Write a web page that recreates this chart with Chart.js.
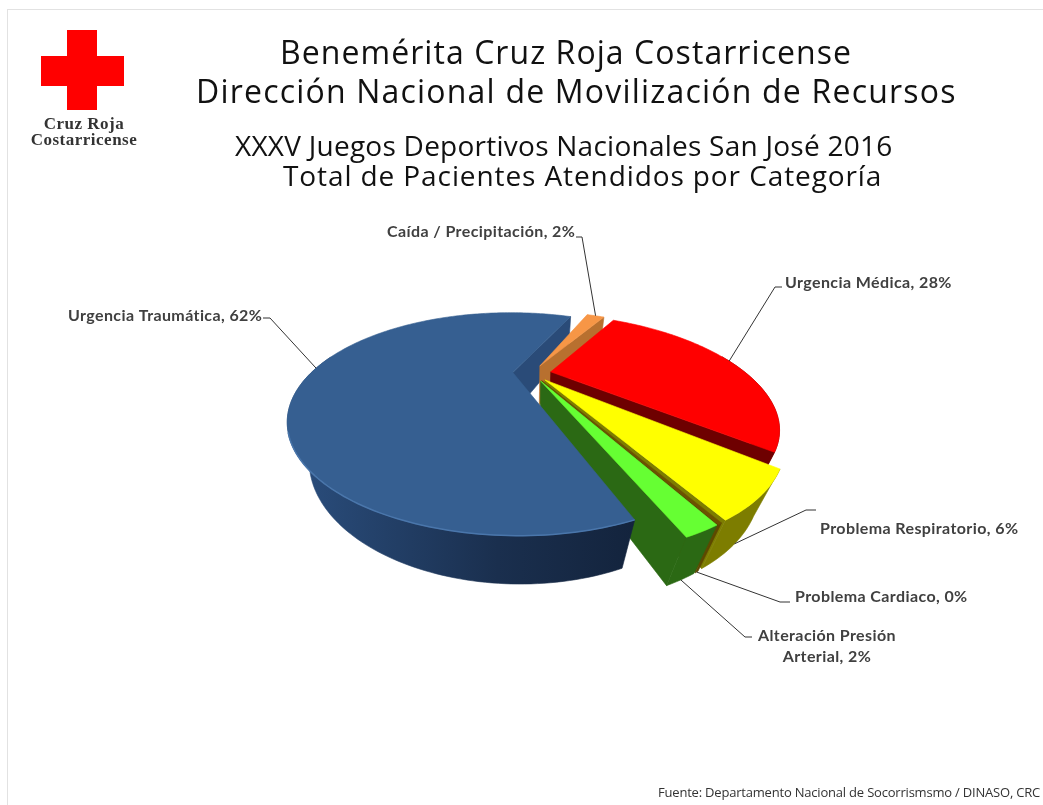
<!DOCTYPE html>
<html>
<head>
<meta charset="utf-8">
<title>Total de Pacientes Atendidos por Categoría</title>
<script src="https://cdn.jsdelivr.net/npm/chart.js@4"></script>
<style>
  html, body { margin: 0; padding: 0; background: #fff; }
  #page { position: relative; width: 1043px; height: 805px; overflow: hidden; }
  #frame { position: absolute; left: 7px; top: 9px; width: 1040px; height: 800px; border: 1px solid #e2e2e2; box-sizing: border-box; }
  canvas { position: absolute; left: 0; top: 0; }
  .t { position: absolute; white-space: nowrap; font-family: "Open Sans", sans-serif; color: #111; line-height: 1; }
  .logo { position: absolute; background: #ff0000; }
  .logotxt { position: absolute; left: 14px; width: 140px; text-align: center; font: bold 17px "Liberation Serif", serif; letter-spacing: .5px; color: #333; line-height: 1; }
</style>
</head>
<body>
<div id="page">
  <div id="frame"></div>
  <canvas id="pie" width="1043" height="805"></canvas>
  <div class="logo" style="left:41px;top:56px;width:83px;height:30px"></div>
  <div class="logo" style="left:67px;top:30px;width:30px;height:80px"></div>
  <div class="logotxt" style="top:115px">Cruz Roja</div>
  <div class="logotxt" style="top:131px">Costarricense</div>
  <div class="t" style="left:280px;top:36px;font-size:32px;letter-spacing:1.06px">Benemérita Cruz Roja Costarricense</div>
  <div class="t" style="left:196px;top:75px;font-size:32px;letter-spacing:1.2px">Dirección Nacional de Movilización de Recursos</div>
  <div class="t" style="left:235px;top:131px;font-size:28px;letter-spacing:.25px">XXXV Juegos Deportivos Nacionales San José 2016</div>
  <div class="t" style="left:283px;top:161px;font-size:28px;letter-spacing:.9px">Total de Pacientes Atendidos por Categoría</div>
  <div class="t" style="left:658px;top:786px;font-size:13px;color:#333;letter-spacing:-.2px">Fuente: Departamento Nacional de Socorrismsmo / DINASO, CRC</div>
</div>
<script>
const categories = [
  "Urgencia Traumática",
  "Caída / Precipitación",
  "Urgencia Médica",
  "Problema Respiratorio",
  "Problema Cardiaco",
  "Alteración Presión\nArterial",
];
const percents = [62.2, 2, 27.8, 6, 0.2, 1.8];
const topColors = ["#365f91", "#f79646", "#ff0000", "#ffff00", "#6b5200", "#66ff33"];
const wallColors = ["#2a4b78", "#b8702f", "#6e0000", "#7d7d00", "#5c4800", "#2b6914"];

// label placement: text position, elbow of the leader, stub end, height of the anchor on the wall
const labelLayout = [
  { x: 68, y: 316, elbow: [270, 318], stub: [263, 318], z: 0 },
  { x: 387, y: 232, elbow: [582, 237], stub: [576, 237], z: 0 },
  { x: 785, y: 283, elbow: [775, 287], stub: [782, 287], z: 0 },
  { x: 820, y: 529, elbow: [806, 510], stub: [816, 510], z: 1 },
  { x: 795, y: 597, elbow: [780, 602], stub: [790, 602], z: 1 },
  { x: 758, y: 636, elbow: [745, 637], stub: [752, 637], z: 1 },
];

// view of the pie plane, fitted by hand to the tilted 3d pie
const view = { cx: 532, cy: 373, a: 202, b: 88, shear: 12, p: 0.464, c: 42.7, q: 0.079, explode: 0.095 };
const bigRadius = 1;
const smallRadius = 0.965; // the exploded small slices read a bit shorter than the big one

// plane point (radius units) -> screen; z goes from the top face (0) to the bottom face (1)
const project = (u, v, z) => {
  const w = 1 - view.p * v + view.q * z;
  return [
    view.cx + (view.a * u + view.shear * v) / w,
    view.cy + (view.b * v + view.c * z) / w,
  ];
};

const sliceGeometry = (arc, i) => {
  const mid = (arc.startAngle + arc.endAngle) / 2;
  const r = i === 0 ? bigRadius : smallRadius;
  const ox = Math.cos(mid) * view.explode;
  const oy = Math.sin(mid) * view.explode;
  const at = (angle, z) => project(ox + r * Math.cos(angle), oy + r * Math.sin(angle), z);
  const apex = (z) => project(ox, oy, z);
  return { mid, at, apex };
};

const fillPoly = (ctx, pts, fill) => {
  ctx.beginPath();
  pts.forEach((p, i) => (i ? ctx.lineTo(p[0], p[1]) : ctx.moveTo(p[0], p[1])));
  ctx.closePath();
  ctx.fillStyle = fill;
  ctx.fill();
  ctx.strokeStyle = fill;
  ctx.lineWidth = 0.6;
  ctx.stroke();
};

// angles along the rim of a slice, frontOnly keeps the part of the rim facing the viewer
const rimAngles = (arc, frontOnly) => {
  const n = Math.max(2, Math.ceil((arc.endAngle - arc.startAngle) / 0.02));
  const out = [];
  for (let k = 0; k <= n; k++) {
    const a = arc.startAngle + ((arc.endAngle - arc.startAngle) * k) / n;
    if (!frontOnly || Math.sin(a) > -0.2) out.push(a);
  }
  return out;
};

const drawEndWall = (ctx, arc, i) => {
  const g = sliceGeometry(arc, i);
  fillPoly(ctx, [g.apex(0), g.at(arc.endAngle, 0), g.at(arc.endAngle, 1), g.apex(1)], wallColors[i]);
};

const drawOuterWall = (ctx, arc, i) => {
  const g = sliceGeometry(arc, i);
  const angles = rimAngles(arc, true);
  if (angles.length < 2) return;
  const pts = angles.map((a) => g.at(a, 0)).concat(angles.slice().reverse().map((a) => g.at(a, 1)));
  let fill = wallColors[i];
  if (i === 0) {
    fill = ctx.createLinearGradient(285, 0, 640, 0);
    fill.addColorStop(0, "#2b4f7f");
    fill.addColorStop(0.6, "#1a2f4e");
    fill.addColorStop(1, "#13233c");
  }
  fillPoly(ctx, pts, fill);
};

const drawTop = (ctx, arc, i) => {
  const g = sliceGeometry(arc, i);
  fillPoly(ctx, [g.apex(0)].concat(rimAngles(arc, false).map((a) => g.at(a, 0))), topColors[i]);
};

const pie3d = {
  id: "pie3d",
  // the library's flat arcs are replaced by their projected version
  beforeDatasetDraw: () => false,
  afterDatasetsDraw(chart) {
    const ctx = chart.ctx;
    const arcs = chart.getDatasetMeta(0).data;
    ctx.save();
    ctx.lineJoin = "round";

    // blue cut wall sits behind everything, the rest goes round the pie
    drawEndWall(ctx, arcs[0], 0);
    for (let i = 1; i < arcs.length; i++) {
      drawEndWall(ctx, arcs[i], i);
      drawOuterWall(ctx, arcs[i], i);
      drawTop(ctx, arcs[i], i);
    }
    drawOuterWall(ctx, arcs[0], 0);
    drawTop(ctx, arcs[0], 0);

    // soft rim along the front of the big slice
    const g = sliceGeometry(arcs[0], 0);
    const rim = rimAngles(arcs[0], false).map((a) => g.at(a, 0)).filter((p) => p[1] > 430);
    ctx.beginPath();
    rim.forEach((p, k) => (k ? ctx.lineTo(p[0], p[1]) : ctx.moveTo(p[0], p[1])));
    ctx.strokeStyle = "#4a76ab";
    ctx.lineWidth = 1.5;
    ctx.stroke();

    // leaders and labels
    arcs.forEach((arc, i) => {
      const box = labelLayout[i];
      const s = sliceGeometry(arc, i);
      const from = s.at(s.mid, box.z);
      ctx.beginPath();
      ctx.moveTo(from[0], from[1]);
      ctx.lineTo(box.elbow[0], box.elbow[1]);
      ctx.lineTo(box.stub[0], box.stub[1]);
      ctx.strokeStyle = "#333";
      ctx.lineWidth = 1;
      ctx.stroke();

      ctx.font = "bold 16px Lato, sans-serif";
      ctx.letterSpacing = "0.4px";
      ctx.fillStyle = "#404040";
      ctx.textBaseline = "middle";
      const value = Math.round(percents[i]);
      const lines = (categories[i] + ", " + value + "%").split("\n");
      const widest = Math.max(...lines.map((l) => ctx.measureText(l).width));
      lines.forEach((l, k) => {
        const w = ctx.measureText(l).width;
        ctx.fillText(l, box.x + (widest - w) / 2, box.y + k * 21);
      });
    });
    ctx.restore();
  },
};

new Chart(document.getElementById("pie").getContext("2d"), {
  type: "pie",
  data: {
    labels: categories,
    datasets: [{ data: percents, backgroundColor: topColors }],
  },
  options: {
    responsive: false,
    animation: false,
    rotation: 161,
    plugins: { legend: { display: false }, tooltip: { enabled: false } },
  },
  plugins: [pie3d],
});
</script>
</body>
</html>
